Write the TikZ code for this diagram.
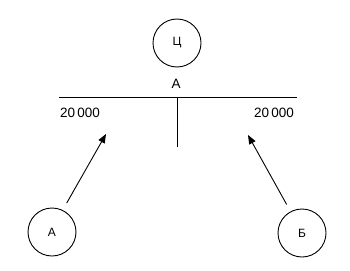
\documentclass[tikz,border=0pt]{standalone}
\usepackage{fontspec}
\setmainfont{Liberation Sans}
\usetikzlibrary{arrows.meta}
\begin{document}
\begin{tikzpicture}[x=1pt,y=-1pt,line width=0.9pt,
  circ/.style={draw,circle,minimum size=48pt,inner sep=0pt,font=\fontsize{12}{12}\selectfont},
  lbl/.style={inner sep=0pt,font=\fontsize{13.5}{13.5}\selectfont},
  arr/.style={-{Triangle[length=9pt,width=7pt]},shorten <=8pt}]
\useasboundingbox (0,0) rectangle (350,270);
\node[circ] (c) at (177,43) {Ц};
\node[lbl] (la) at (176,84) {А};
\coordinate (hl) at (59,97);
\coordinate (hr) at (297,97);
\coordinate (vt) at (177,97);
\coordinate (vb) at (177,147);
\draw (hl) -- (hr);
\draw (vt) -- (vb);
\node[lbl] (nl) at (80,113) {20\,000};
\node[lbl] (nr) at (274,113) {20\,000};
\node[circ] (a) at (52,232) {А};
\node[circ] (b) at (302,233) {Б};
\coordinate (at) at (106,134);
\coordinate (bt) at (248,135);
\draw[arr] (a.64) -- (at);
\draw[arr] (b.118) -- (bt);
\end{tikzpicture}
\end{document}
